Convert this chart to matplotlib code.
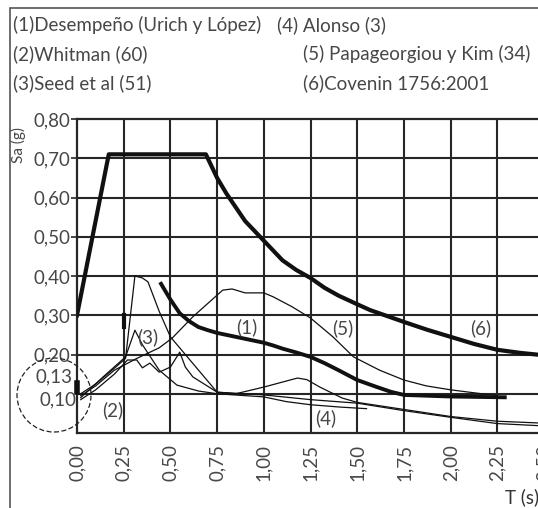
import matplotlib
matplotlib.use("Agg")
import matplotlib.pyplot as plt
from matplotlib.patches import Ellipse, Rectangle

plt.rcParams['font.family'] = ['Lato', 'DejaVu Sans']

# --- data: period T (s) vs spectral accel Sa (g) ---
# (6) Covenin 1756:2001
t_covenin = [0.00, 0.17, 0.69, 0.75, 0.80, 0.85, 0.90, 0.95, 1.00, 1.05, 1.10, 1.175, 1.25, 1.325, 1.40,
             1.50, 1.57, 1.75, 1.875, 2.00, 2.125, 2.25, 2.375, 2.50]
sa_covenin = [0.30, 0.71, 0.71, 0.65, 0.61, 0.575, 0.54, 0.515, 0.49, 0.465, 0.44, 0.415, 0.395, 0.37, 0.35,
              0.328, 0.313, 0.283, 0.263, 0.245, 0.227, 0.212, 0.204, 0.198]

# (1) Desempeño (Urich y López)
t_desemp = [0.45, 0.50, 0.55, 0.60, 0.65, 0.70, 0.75, 0.85, 0.95, 1.00, 1.05, 1.10, 1.175, 1.25, 1.325,
            1.40, 1.50, 1.60, 1.68, 1.75, 2.00, 2.29]
sa_desemp = [0.38, 0.34, 0.305, 0.285, 0.27, 0.262, 0.255, 0.245, 0.235, 0.23, 0.223, 0.215, 0.205, 0.194,
             0.178, 0.16, 0.135, 0.118, 0.105, 0.097, 0.093, 0.091]

# (5) Papageorgiou y Kim
t_papa = [0.02, 0.10, 0.20, 0.32, 0.44, 0.51, 0.62, 0.70, 0.78, 0.83, 0.90, 1.00, 1.05, 1.15, 1.25, 1.37,
          1.48, 1.62, 1.75, 1.87, 2.00, 2.25]
sa_papa = [0.095, 0.12, 0.16, 0.19, 0.217, 0.242, 0.296, 0.33, 0.364, 0.367, 0.357, 0.357, 0.347, 0.322,
           0.293, 0.245, 0.194, 0.16, 0.135, 0.12, 0.11, 0.095]

# (2) Whitman
t_whit = [0.02, 0.10, 0.20, 0.26, 0.31, 0.35, 0.38, 0.44, 0.50, 0.75, 1.00, 1.25, 1.50, 1.75, 2.00, 2.25, 2.50]
sa_whit = [0.10, 0.125, 0.165, 0.19, 0.40, 0.395, 0.385, 0.31, 0.245, 0.104, 0.097, 0.085, 0.076, 0.057,
           0.04, 0.024, 0.018]

# (3) Seed et al
t_seed = [0.02, 0.14, 0.26, 0.31, 0.35, 0.44, 0.535, 0.65, 0.75, 1.00, 1.12, 1.25, 1.41, 1.55]
sa_seed = [0.09, 0.143, 0.194, 0.262, 0.225, 0.16, 0.122, 0.107, 0.10, 0.092, 0.08, 0.072, 0.066, 0.062]

# (4) Alonso
t_alonso = [0.02, 0.10, 0.20, 0.27, 0.32, 0.35, 0.39, 0.44, 0.50, 0.55, 0.58, 0.62, 0.75, 0.85, 1.00, 1.18,
            1.23, 1.30, 1.42, 1.50, 1.75, 2.00, 2.25, 2.50]
sa_alonso = [0.085, 0.11, 0.15, 0.186, 0.186, 0.166, 0.178, 0.155, 0.168, 0.206, 0.168, 0.143, 0.104, 0.10,
             0.117, 0.14, 0.136, 0.117, 0.089, 0.078, 0.06, 0.042, 0.03, 0.025]

# short heavy marks in the scan
t_mark_a = [0.00, 0.00]
sa_mark_a = [0.104, 0.127]
t_mark_b = [0.25, 0.25]
sa_mark_b = [0.27, 0.30]

y_ticks = [0.2, 0.3, 0.4, 0.5, 0.6, 0.7, 0.8]
y_labels = ['0,20', '0,30', '0,40', '0,50', '0,60', '0,70', '0,80']
x_ticks = [0.0, 0.25, 0.5, 0.75, 1.0, 1.25, 1.5, 1.75, 2.0, 2.25, 2.5]
x_labels = ['0,00', '0,25', '0,50', '0,75', '1,00', '1,25', '1,50', '1,75', '2,00', '2,25', '2,50']

legend_left = ['(1)Desempeño (Urich y López)', '(2)Whitman (60)', '(3)Seed et al (51)']
legend_right = ['(4) Alonso (3)', '(5) Papageorgiou y Kim (34)', '(6)Covenin 1756:2001']

W, H = 538, 508
fig = plt.figure(figsize=(W / 100, H / 100), dpi=100)
ax = fig.add_axes([77 / W, 75 / H, 467 / W, 314 / H])

txt = '#474747'
grid = '#262626'
fs = 13.5

# grid
for y in [0.1, 0.2, 0.3, 0.4, 0.5, 0.6, 0.7]:
    ax.axhline(y, color=grid, lw=1.5, zorder=1)
for x in x_ticks[1:]:
    ax.axvline(x, color=grid, lw=1.5, zorder=1)

thin = dict(color='#111111', lw=0.9, zorder=3)
ax.plot(t_papa, sa_papa, **thin)
ax.plot(t_whit, sa_whit, **thin)
ax.plot(t_seed, sa_seed, **thin)
ax.plot(t_alonso, sa_alonso, **thin)
ax.plot(t_desemp, sa_desemp, color='#111111', lw=2.8, zorder=4)
ax.plot(t_covenin, sa_covenin, color='#111111', lw=3.0, zorder=4)
ax.plot(t_mark_a, sa_mark_a, color='#111111', lw=4, zorder=4, clip_on=False)
ax.plot(t_mark_b, sa_mark_b, color='#111111', lw=3, zorder=4)

ax.set_xlim(0, 2.5)
ax.set_ylim(0, 0.8)
ax.set_yticks(y_ticks)
ax.set_yticklabels(y_labels)
ax.set_xticks(x_ticks)
ax.set_xticklabels(x_labels, rotation=90)
ax.tick_params(axis='y', length=4, width=1.2, color=grid, labelsize=fs, labelcolor=txt, pad=1)
ax.tick_params(axis='x', length=0, labelsize=fs, labelcolor=txt, pad=8)
for s in ['left', 'bottom', 'top']:
    ax.spines[s].set_color(grid)
    ax.spines[s].set_linewidth(1.6)
ax.spines['right'].set_visible(False)

# curve labels
lab = dict(fontsize=fs, color=txt, ha='center', va='center', zorder=5)
ax.text(0.91, 0.27, '(1)', **lab)
ax.text(0.19, 0.059, '(2)', **lab)
ax.text(0.38, 0.245, '(3)', **lab)
ax.text(1.33, 0.038, '(4)', **lab)
ax.text(1.42, 0.268, '(5)', **lab)
ax.text(2.16, 0.268, '(6)', **lab)

# circled low values on the Sa axis
fig.text(72 / W, 1 - 377 / H, '0,13', fontsize=fs, color=txt, ha='right', va='center')
fig.text(76 / W, 1 - 400 / H, '0,10', fontsize=fs, color=txt, ha='right', va='center')
fig.patches.append(Ellipse((54 / W, 1 - 395 / H), 74 / W, 74 / H, transform=fig.transFigure,
                           fill=False, ls=(0, (4, 2)), lw=0.9, color='#222222'))

fig.text(18 / W, 1 - 145 / H, 'Sa (g)', fontsize=11, color=txt, rotation=90, ha='center', va='center')
fig.text(522 / W, 1 - 497 / H, 'T (s)', fontsize=fs, color='#333333', ha='center', va='center')

for i, s in enumerate(legend_left):
    fig.text(13 / W, 1 - (25 + 29 * i) / H, s, fontsize=fs, color=txt, va='center')
fig.text(277 / W, 1 - 25 / H, legend_right[0], fontsize=fs, color=txt, va='center')
fig.text(303 / W, 1 - 54 / H, legend_right[1], fontsize=fs, color=txt, va='center')
fig.text(303 / W, 1 - 83 / H, legend_right[2], fontsize=fs, color=txt, va='center')

# frame of the scanned figure
fig.patches.append(Rectangle((10 / W, -0.1), 1.2, 1.1 - 8 / H, transform=fig.transFigure,
                             fill=False, lw=1.2, edgecolor='#555555'))

fig.savefig('out.png', dpi=100)
